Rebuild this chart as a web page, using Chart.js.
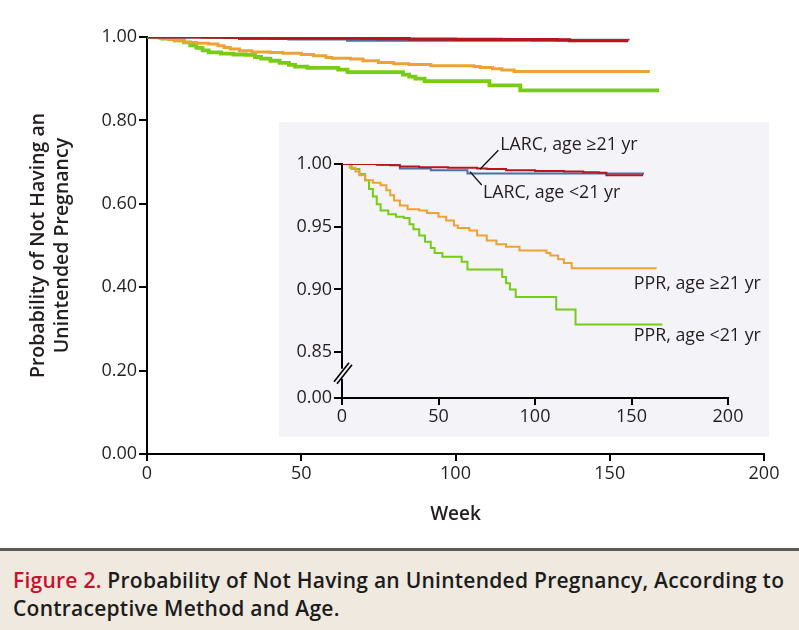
<!DOCTYPE html>
<html>
<head>
<meta charset="utf-8">
<script src="https://cdn.jsdelivr.net/npm/chart.js@4/dist/chart.umd.min.js"></script>
<style>
  html, body { margin: 0; padding: 0; background: #ffffff; }
  #wrap { position: relative; width: 799px; height: 630px; overflow: hidden; }
  #main { position: absolute; left: 0; top: 0; }
  #inset { position: absolute; left: 279px; top: 122px; background: #f3f3f8; }
  #caption {
    position: absolute; left: 0; top: 548px; width: 799px; height: 82px;
    box-sizing: border-box; border-top: 3px solid #5b5b5b; background: #efe9df;
    padding: 15px 0 0 13px; font-family: "Open Sans", Lato, sans-serif;
    font-weight: 600; font-size: 21px; letter-spacing: 0.25px; line-height: 28px; color: #1c1c1c;
    white-space: nowrap;
  }
  #caption .fig { color: #c8102e; }
</style>
</head>
<body>
<div id="wrap">
  <canvas id="main" width="799" height="548"></canvas>
  <canvas id="inset" width="490" height="315"></canvas>
  <div id="caption"><span class="fig">Figure 2.</span> Probability of Not Having an Unintended Pregnancy, According to<br>Contraceptive Method and Age.</div>
</div>
<script>
// ---- Data (Kaplan-Meier steps: value starts at the given week) ----
const larcOlderWeeks  = [0, 18, 25, 30, 40, 55, 70, 75, 85, 100, 115, 125, 133, 137, 156];
const larcOlderValues = [1, 0.9995, 0.999, 0.998, 0.9975, 0.997, 0.9965, 0.996, 0.995, 0.9945, 0.994, 0.9935, 0.993, 0.991, 0.991];

const larcYoungWeeks  = [0, 20, 30, 46, 65, 156];
const larcYoungValues = [1, 0.9995, 0.9965, 0.995, 0.9925, 0.9915];

const pprOlderWeeks  = [0, 4, 7, 9, 12, 16, 20, 23, 25, 27, 30, 34, 40, 44, 50, 54, 58, 60, 66, 70, 75, 80, 85, 92, 106, 108, 112, 115, 119, 163];
const pprOlderValues = [1, 0.997, 0.994, 0.991, 0.987, 0.985, 0.983, 0.979, 0.975, 0.971, 0.967, 0.964, 0.963, 0.961, 0.958, 0.955, 0.951, 0.949, 0.947, 0.943, 0.939, 0.936, 0.934, 0.931, 0.929, 0.927, 0.924, 0.921, 0.917, 0.917];

const pprYoungWeeks  = [0, 5, 9, 12, 14, 16, 18, 20, 24, 28, 32, 35, 37, 40, 43, 46, 48, 52, 62, 65, 83, 85, 87, 90, 111, 121, 166];
const pprYoungValues = [1, 0.996, 0.992, 0.987, 0.98, 0.974, 0.968, 0.963, 0.96, 0.958, 0.957, 0.952, 0.948, 0.943, 0.938, 0.933, 0.929, 0.926, 0.922, 0.916, 0.910, 0.905, 0.900, 0.894, 0.884, 0.872, 0.872];

const seriesNames = ['LARC, age \u226521 yr', 'LARC, age <21 yr', 'PPR, age \u226521 yr', 'PPR, age <21 yr'];

// Tick labels
const weekTicks = [0, 50, 100, 150, 200];
const mainProbTicks = [0, 0.2, 0.4, 0.6, 0.8, 1.0];
const insetProbTicks = [0.85, 0.90, 0.95, 1.00];
const insetBreakLabel = '0.00';

// Inset series labels anchored in data units: [week, probability, align]
const insetLabelAnchors = [
  [82, 1.0152, 'left'],
  [73, 0.9769, 'left'],
  [217, 0.9043, 'right'],
  [217, 0.8628, 'right']
];
// leader lines in data units: [w1, p1, w2, p2]
const insetLeaders = [
  [71.5, 0.9958, 81, 1.011],
  [66.3, 0.9939, 72.4, 0.9833]
];

const colors = ['#b8161c', '#4b6fa6', '#efa234', '#78cc16'];
const FONT = '"Open Sans", Lato, sans-serif';
const INK = '#231f20';

function pts(w, v) { return w.map((x, i) => ({ x: x, y: v[i] })); }
const allSeries = [
  pts(larcOlderWeeks, larcOlderValues),
  pts(larcYoungWeeks, larcYoungValues),
  pts(pprOlderWeeks, pprOlderValues),
  pts(pprYoungWeeks, pprYoungValues)
];

function makeDatasets(widths) {
  return allSeries.map((d, i) => ({
    label: seriesNames[i], data: d, stepped: true,
    borderColor: colors[i], backgroundColor: colors[i],
    borderWidth: widths[i], pointRadius: 0, fill: false, order: i,
    borderCapStyle: 'butt', borderJoinStyle: 'miter'
  }));
}

// ---- Main chart ----
new Chart(document.getElementById('main'), {
  type: 'line',
  data: { datasets: makeDatasets([3.2, 3, 3, 3.8]) },
  options: {
    responsive: false, animation: false, devicePixelRatio: 1,
    layout: { padding: { left: 0, top: 37, right: 35, bottom: 0 } },
    plugins: { legend: { display: false }, tooltip: { enabled: false } },
    scales: {
      x: {
        type: 'linear', min: 0, max: 200,
        afterBuildTicks: s => { s.ticks = weekTicks.map(v => ({ value: v })); },
        afterFit: s => { s.height = 94; },
        border: { display: true, color: '#000', width: 2 },
        grid: { display: true, drawOnChartArea: false, color: '#000', lineWidth: 2, tickLength: 7 },
        ticks: { color: INK, font: { family: FONT, size: 18 }, padding: 2, maxRotation: 0 },
        title: { display: true, text: 'Week', color: INK,
                 font: { family: FONT, size: 19, weight: '600' }, padding: { top: 0, bottom: 22 } }
      },
      y: {
        type: 'linear', min: 0, max: 1,
        afterBuildTicks: s => { s.ticks = mainProbTicks.map(v => ({ value: v })); },
        afterFit: s => { s.width = 147; },
        border: { display: true, color: '#000', width: 2 },
        grid: { display: true, drawOnChartArea: false, color: '#000', lineWidth: 2, tickLength: 8 },
        ticks: { color: INK, font: { family: FONT, size: 18 }, padding: 2,
                 callback: v => Number(v).toFixed(2) },
        title: { display: true, text: ['Probability of Not Having an', 'Unintended Pregnancy'], color: INK,
                 font: { family: FONT, size: 19.5, weight: '600', lineHeight: 1.22 }, padding: { top: 27, bottom: 0 } }
      }
    }
  }
});

// ---- Inset chart ----
const breakGap = 0.0365;                    // visual span of the axis break (value units)
const insetMin = insetProbTicks[0] - breakGap;

const insetPlugin = {
  id: 'insetDecor',
  afterDraw(chart) {
    const ctx = chart.ctx, xs = chart.scales.x, ys = chart.scales.y;
    ctx.save();
    // axis break
    const xA = xs.left;
    const yTop = ys.getPixelForValue(insetProbTicks[0]);
    const yBot = ys.bottom;
    const mid = yTop + (yBot - yTop) * 0.47;
    ctx.fillStyle = '#f3f3f8';
    ctx.fillRect(xA - 3, mid - 5, 6, 10);
    ctx.strokeStyle = '#000'; ctx.lineWidth = 1.6;
    ctx.beginPath();
    ctx.moveTo(xA - 8, mid + 8); ctx.lineTo(xA + 7, mid - 11);
    ctx.moveTo(xA - 5, mid + 10); ctx.lineTo(xA + 10, mid - 9);
    ctx.stroke();
    // leaders
    ctx.strokeStyle = '#111'; ctx.lineWidth = 1.3;
    insetLeaders.forEach(l => {
      ctx.beginPath();
      ctx.moveTo(xs.getPixelForValue(l[0]), ys.getPixelForValue(l[1]));
      ctx.lineTo(xs.getPixelForValue(l[2]), ys.getPixelForValue(l[3]));
      ctx.stroke();
    });
    // labels
    ctx.fillStyle = INK;
    ctx.font = '17.8px ' + FONT;
    ctx.textBaseline = 'middle';
    insetLabelAnchors.forEach((a, i) => {
      ctx.textAlign = a[2];
      ctx.fillText(seriesNames[i], xs.getPixelForValue(a[0]), ys.getPixelForValue(a[1]));
    });
    ctx.restore();
  }
};

new Chart(document.getElementById('inset'), {
  type: 'line',
  data: { datasets: makeDatasets([2, 2, 2, 2]) },
  plugins: [insetPlugin],
  options: {
    responsive: false, animation: false, devicePixelRatio: 1,
    layout: { padding: { left: 0, top: 42, right: 41, bottom: 0 } },
    plugins: { legend: { display: false }, tooltip: { enabled: false } },
    scales: {
      x: {
        type: 'linear', min: 0, max: 200,
        afterBuildTicks: s => { s.ticks = weekTicks.map(v => ({ value: v })); },
        afterFit: s => { s.height = 39; },
        border: { display: true, color: '#000', width: 2 },
        grid: { display: true, drawOnChartArea: false, color: '#000', lineWidth: 2, tickLength: 7 },
        ticks: { color: INK, font: { family: FONT, size: 18 }, padding: 1, maxRotation: 0 }
      },
      y: {
        type: 'linear', min: insetMin, max: 1,
        afterBuildTicks: s => { s.ticks = [{ value: insetMin }].concat(insetProbTicks.map(v => ({ value: v }))); },
        afterFit: s => { s.width = 63; },
        border: { display: true, color: '#000', width: 2 },
        grid: { display: true, drawOnChartArea: false, color: '#000', lineWidth: 2, tickLength: 8 },
        ticks: { color: INK, font: { family: FONT, size: 18 }, padding: 2,
                 callback: v => (Math.abs(v - insetMin) < 1e-9 ? insetBreakLabel : Number(v).toFixed(2)) }
      }
    }
  }
});
</script>
</body>
</html>
